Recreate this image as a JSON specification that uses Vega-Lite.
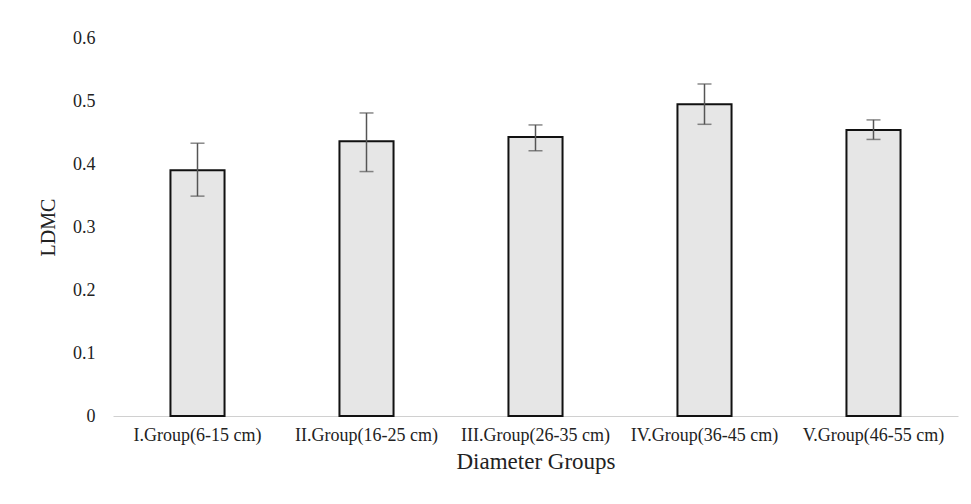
{
  "$schema": "https://vega.github.io/schema/vega-lite/v6.json",
  "width": 845,
  "height": 378,
  "autosize": "none",
  "padding": {"left": 113, "top": 38, "right": 13, "bottom": 88},
  "background": "white",
  "config": {
    "view": {"stroke": null},
    "font": "Liberation Serif"
  },
  "data": {
    "values": [
      {"group": "I.Group(6-15 cm)", "ldmc": 0.390, "lo": 0.349, "hi": 0.433},
      {"group": "II.Group(16-25 cm)", "ldmc": 0.436, "lo": 0.388, "hi": 0.481},
      {"group": "III.Group(26-35 cm)", "ldmc": 0.443, "lo": 0.421, "hi": 0.462},
      {"group": "IV.Group(36-45 cm)", "ldmc": 0.495, "lo": 0.463, "hi": 0.527},
      {"group": "V.Group(46-55 cm)", "ldmc": 0.454, "lo": 0.439, "hi": 0.470}
    ]
  },
  "encoding": {
    "x": {
      "field": "group", "type": "nominal", "sort": null,
      "scale": {"paddingInner": 0.68, "paddingOuter": 0.34},
      "axis": {
        "title": "Diameter Groups", "labelAngle": 0, "ticks": false,
        "domainColor": "#d0d0d0", "domainWidth": 1,
        "labelFont": "Liberation Serif", "labelFontSize": 18, "labelColor": "#222",
        "labelPadding": 10, "labelLimit": 300,
        "titleFont": "Liberation Serif", "titleFontSize": 23,
        "titleFontWeight": "normal", "titleColor": "#222", "titlePadding": 6
      }
    }
  },
  "layer": [
    {
      "mark": {"type": "bar", "fill": "#e6e6e6", "stroke": "#111", "strokeWidth": 2},
      "encoding": {
        "y": {
          "field": "ldmc", "type": "quantitative",
          "scale": {"domain": [0, 0.6]},
          "axis": {
            "title": "LDMC", "values": [0, 0.1, 0.2, 0.3, 0.4, 0.5, 0.6], "format": "~g",
            "grid": false, "domain": false, "ticks": false,
            "labelFont": "Liberation Serif", "labelFontSize": 18, "labelColor": "#222",
            "labelPadding": 18, "titleFont": "Liberation Serif", "titleFontSize": 20,
            "titleFontWeight": "normal", "titleColor": "#222", "titlePadding": 14
          }
        }
      }
    },
    {
      "mark": {"type": "rule", "color": "#555", "strokeWidth": 1.5},
      "encoding": {
        "y": {"field": "lo", "type": "quantitative"},
        "y2": {"field": "hi"}
      }
    },
    {
      "mark": {"type": "tick", "color": "#555", "size": 14, "thickness": 1.5, "orient": "horizontal"},
      "encoding": {"y": {"field": "lo", "type": "quantitative"}}
    },
    {
      "mark": {"type": "tick", "color": "#555", "size": 14, "thickness": 1.5, "orient": "horizontal"},
      "encoding": {"y": {"field": "hi", "type": "quantitative"}}
    }
  ]
}
